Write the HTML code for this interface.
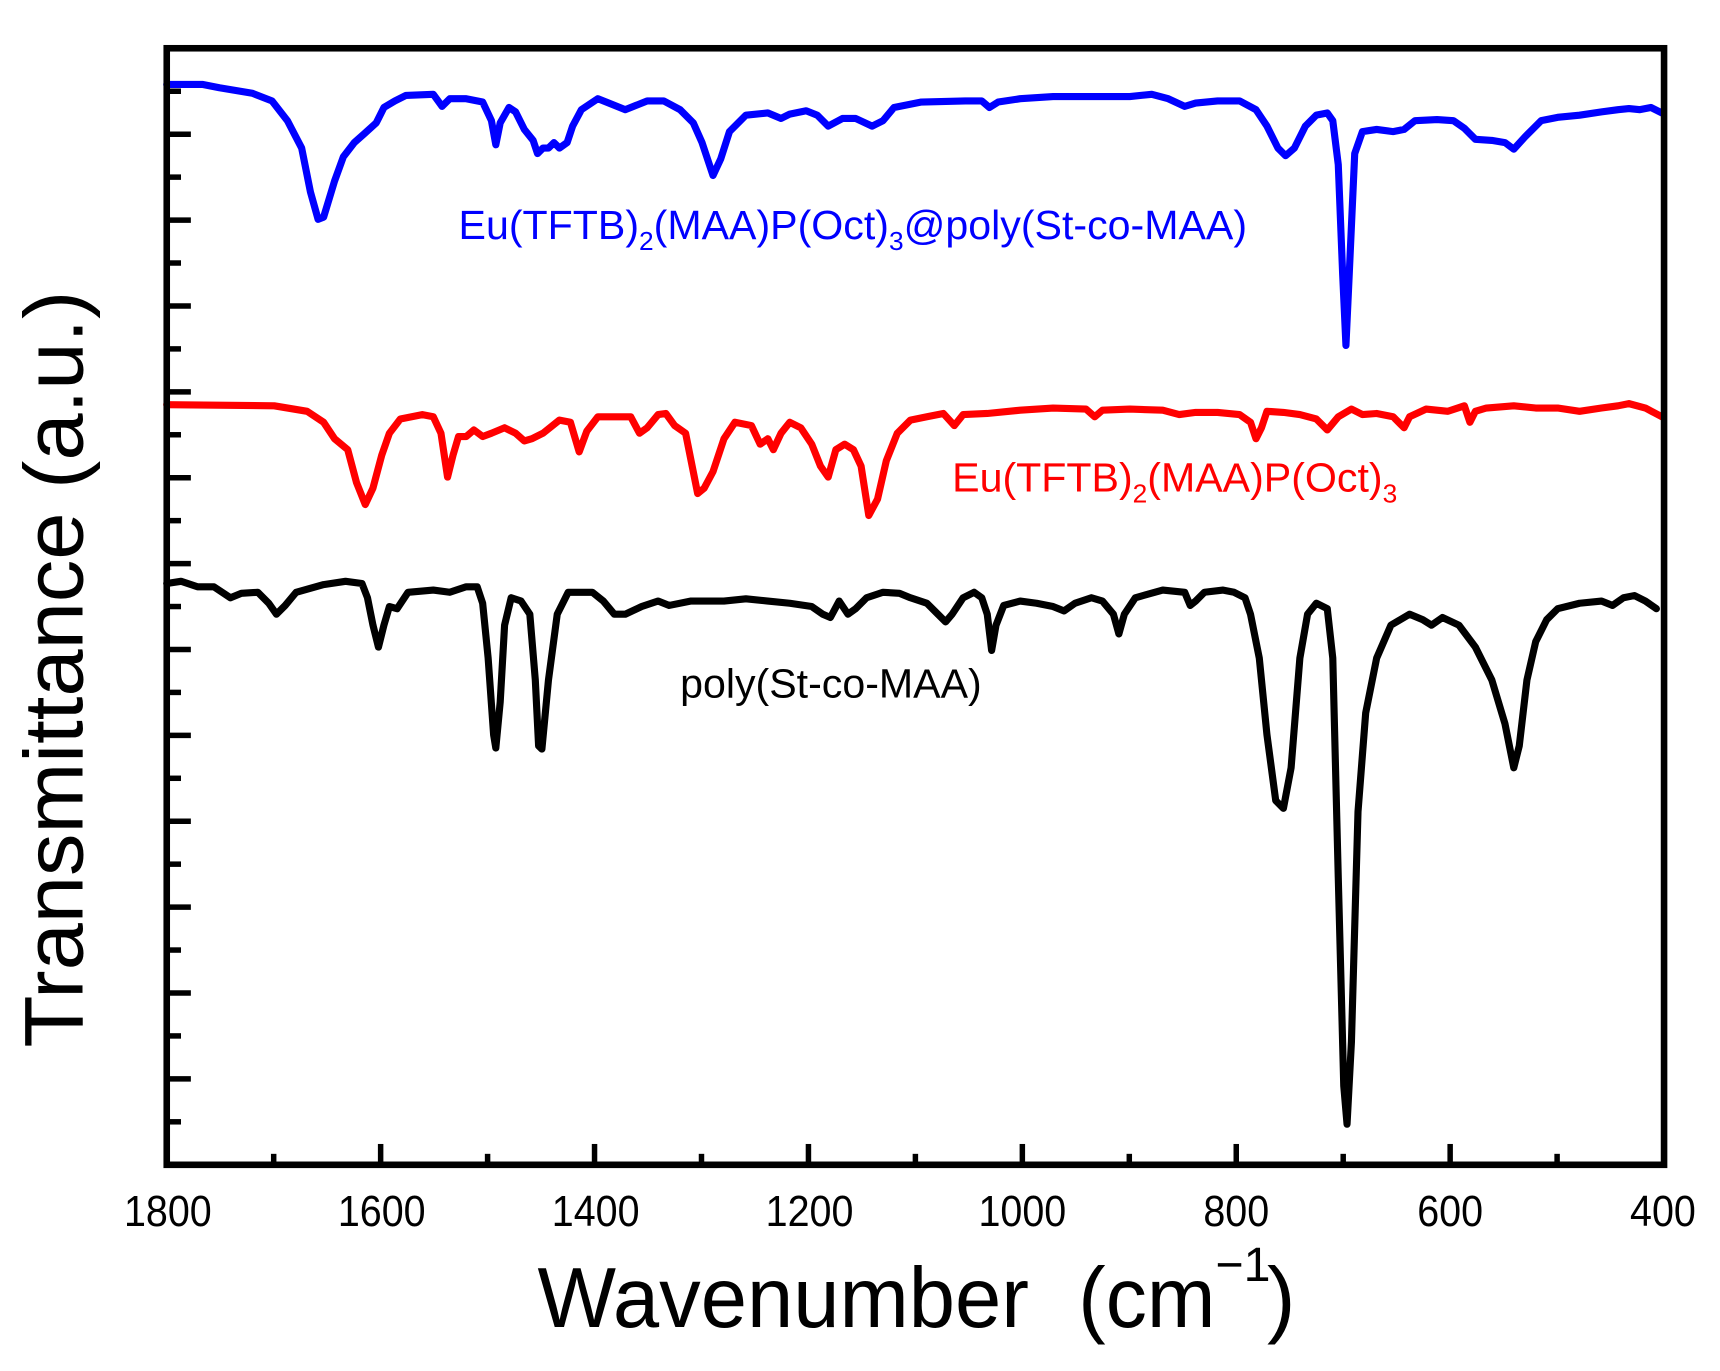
<!DOCTYPE html>
<html><head><meta charset="utf-8"><style>html,body{margin:0;padding:0;background:#fff}svg{display:block}</style></head>
<body>
<svg width="1720" height="1371" viewBox="0 0 1568 1250" preserveAspectRatio="none" xmlns="http://www.w3.org/2000/svg" font-family="Liberation Sans, Arial, sans-serif">
<rect width="1568" height="1250" fill="#fff"/>
<g fill="none" stroke-linejoin="round" stroke-linecap="round" stroke-width="6.5">
<polyline stroke="#0000ff" points="152,77 185,77 200,80 230,85 248,92 262,110 275,135 283,175 290,200 295,198 305,165 313,143 323,130 332,122 343,112 350,98 360,92 370,87 395,86 403,97 410,90 425,90 440,93 448,110 452,132 456,112 464,98 470,102 478,118 486,128 490,140 495,135 500,135 505,130 510,135 517,130 522,115 530,100 545,90 555,94 570,100 590,92 605,92 620,100 632,112 640,130 650,160 657,145 665,120 680,105 700,103 712,108 720,104 735,101 745,105 755,115 768,108 780,108 795,115 805,110 815,98 840,93 880,92 895,92 902,98 910,93 930,90 960,88 1000,88 1030,88 1050,86 1065,90 1080,97 1090,94 1110,92 1130,92 1145,100 1155,115 1165,135 1172,142 1180,135 1190,115 1200,105 1210,103 1215,110 1220,150 1224,250 1227,315 1230,250 1235,140 1242,120 1255,118 1270,120 1280,118 1290,110 1310,109 1325,110 1335,117 1345,127 1360,128 1372,130 1380,136 1390,125 1405,110 1420,107 1440,105 1460,102 1475,100 1485,99 1495,100 1505,98 1515,103"/>
<polyline stroke="#ff0000" points="152,369 250,370 280,375 295,385 305,400 317,410 325,440 333,460 340,445 348,415 355,395 365,382 385,378 395,380 402,395 408,435 413,415 418,398 425,398 432,392 440,398 448,395 460,390 470,395 478,402 485,400 495,395 510,383 520,385 528,412 535,393 545,380 560,380 575,380 583,395 590,390 600,378 607,377 615,388 625,395 630,420 636,450 642,445 650,430 660,400 670,385 685,388 693,405 700,400 705,410 712,395 720,385 730,390 740,405 748,425 755,435 762,410 770,405 778,410 785,425 792,470 800,455 808,420 818,395 830,383 845,380 860,377 870,388 878,378 900,377 930,374 960,372 990,373 998,380 1005,374 1030,373 1060,374 1075,378 1090,376 1110,376 1130,378 1140,385 1145,400 1150,390 1155,375 1170,376 1185,378 1200,382 1210,392 1220,380 1232,373 1242,378 1255,377 1270,380 1280,390 1285,380 1300,373 1320,375 1335,370 1340,385 1345,375 1355,372 1380,370 1400,372 1420,372 1440,375 1460,372 1475,370 1485,368 1500,372 1515,380"/>
<polyline stroke="#000" points="152,532 165,530 180,535 195,535 210,545 220,541 235,540 245,550 252,560 260,552 270,540 295,533 315,530 330,532 335,545 340,570 345,590 350,570 355,553 362,555 372,540 395,538 410,540 425,535 435,535 440,550 445,600 450,670 452,682 456,640 460,570 466,545 475,548 483,560 488,620 491,680 494,683 500,620 508,560 518,540 540,540 550,548 560,560 570,560 585,553 600,548 610,552 630,548 660,548 680,546 700,548 720,550 740,553 750,560 757,563 765,548 773,560 780,555 790,545 805,540 820,541 830,545 845,550 855,560 862,567 868,560 878,545 888,540 895,545 900,560 904,593 908,570 915,552 930,548 945,550 960,553 970,557 980,550 995,545 1005,548 1015,560 1020,578 1025,560 1035,545 1060,538 1080,540 1085,552 1090,548 1098,540 1115,538 1125,540 1135,545 1140,560 1148,600 1155,670 1163,730 1170,737 1177,700 1185,600 1192,560 1200,550 1210,555 1215,600 1220,800 1225,990 1228,1025 1232,950 1238,740 1245,650 1255,600 1268,570 1285,560 1297,565 1305,570 1315,563 1330,570 1345,590 1360,620 1372,660 1380,700 1385,680 1392,620 1400,585 1410,565 1420,555 1440,550 1460,548 1470,552 1480,545 1490,543 1500,548 1510,555"/>
</g>
<rect x="152" y="44" width="1365" height="1018" fill="none" stroke="#000" stroke-width="6"/>
<g stroke="#000" stroke-width="5">
<line x1="152" y1="1062" x2="152" y2="1043"/><line x1="249.5" y1="1062" x2="249.5" y2="1052"/>
<line x1="347" y1="1062" x2="347" y2="1043"/><line x1="444.5" y1="1062" x2="444.5" y2="1052"/>
<line x1="542" y1="1062" x2="542" y2="1043"/><line x1="639.5" y1="1062" x2="639.5" y2="1052"/>
<line x1="737" y1="1062" x2="737" y2="1043"/><line x1="834.5" y1="1062" x2="834.5" y2="1052"/>
<line x1="932" y1="1062" x2="932" y2="1043"/><line x1="1029.5" y1="1062" x2="1029.5" y2="1052"/>
<line x1="1127" y1="1062" x2="1127" y2="1043"/><line x1="1224.5" y1="1062" x2="1224.5" y2="1052"/>
<line x1="1322" y1="1062" x2="1322" y2="1043"/><line x1="1419.5" y1="1062" x2="1419.5" y2="1052"/>
<line x1="152" y1="1022.8" x2="165" y2="1022.8"/><line x1="152" y1="983.7" x2="174" y2="983.7"/>
<line x1="152" y1="944.5" x2="165" y2="944.5"/><line x1="152" y1="905.4" x2="174" y2="905.4"/>
<line x1="152" y1="866.2" x2="165" y2="866.2"/><line x1="152" y1="827.1" x2="174" y2="827.1"/>
<line x1="152" y1="787.9" x2="165" y2="787.9"/><line x1="152" y1="748.8" x2="174" y2="748.8"/>
<line x1="152" y1="709.6" x2="165" y2="709.6"/><line x1="152" y1="670.5" x2="174" y2="670.5"/>
<line x1="152" y1="631.3" x2="165" y2="631.3"/><line x1="152" y1="592.2" x2="174" y2="592.2"/>
<line x1="152" y1="553" x2="165" y2="553"/><line x1="152" y1="513.9" x2="174" y2="513.9"/>
<line x1="152" y1="474.7" x2="165" y2="474.7"/><line x1="152" y1="435.6" x2="174" y2="435.6"/>
<line x1="152" y1="396.4" x2="165" y2="396.4"/><line x1="152" y1="357.3" x2="174" y2="357.3"/>
<line x1="152" y1="318.1" x2="165" y2="318.1"/><line x1="152" y1="279" x2="174" y2="279"/>
<line x1="152" y1="239.8" x2="165" y2="239.8"/><line x1="152" y1="200.7" x2="174" y2="200.7"/>
<line x1="152" y1="161.5" x2="165" y2="161.5"/><line x1="152" y1="122.4" x2="174" y2="122.4"/>
<line x1="152" y1="83.2" x2="165" y2="83.2"/>
</g>
<g font-size="40" text-anchor="middle" fill="#000" lengthAdjust="spacingAndGlyphs">
<text x="153" y="1118" textLength="80" lengthAdjust="spacingAndGlyphs">1800</text>
<text x="348" y="1118" textLength="80" lengthAdjust="spacingAndGlyphs">1600</text>
<text x="543" y="1118" textLength="80" lengthAdjust="spacingAndGlyphs">1400</text>
<text x="738" y="1118" textLength="80" lengthAdjust="spacingAndGlyphs">1200</text>
<text x="932" y="1118" textLength="80" lengthAdjust="spacingAndGlyphs">1000</text>
<text x="1127" y="1118" textLength="60" lengthAdjust="spacingAndGlyphs">800</text>
<text x="1322" y="1118" textLength="60" lengthAdjust="spacingAndGlyphs">600</text>
<text x="1516" y="1118" textLength="60" lengthAdjust="spacingAndGlyphs">400</text>
</g>
<text x="490" y="1210" font-size="78" textLength="448" lengthAdjust="spacingAndGlyphs">Wavenumber</text>
<text x="983" y="1210" font-size="78" textLength="125" lengthAdjust="spacingAndGlyphs">(cm</text>
<text x="1108" y="1168" font-size="44">−1</text>
<text x="1155" y="1210" font-size="78">)</text>
<text transform="translate(75,955) rotate(-90)" font-size="76" textLength="690" lengthAdjust="spacingAndGlyphs">Transmittance (a.u.)</text>
<text x="418" y="218" font-size="37.5" fill="#0000ff">Eu(TFTB)<tspan font-size="24" dy="10">2</tspan><tspan dy="-10">(MAA)P(Oct)</tspan><tspan font-size="24" dy="10">3</tspan><tspan dy="-10">@poly(St-co-MAA)</tspan></text>
<text x="868" y="448" font-size="37.5" fill="#ff0000">Eu(TFTB)<tspan font-size="24" dy="10">2</tspan><tspan dy="-10">(MAA)P(Oct)</tspan><tspan font-size="24" dy="10">3</tspan></text>
<text x="620" y="636" font-size="37.5" fill="#000">poly(St-co-MAA)</text>
</svg>
</body></html>
